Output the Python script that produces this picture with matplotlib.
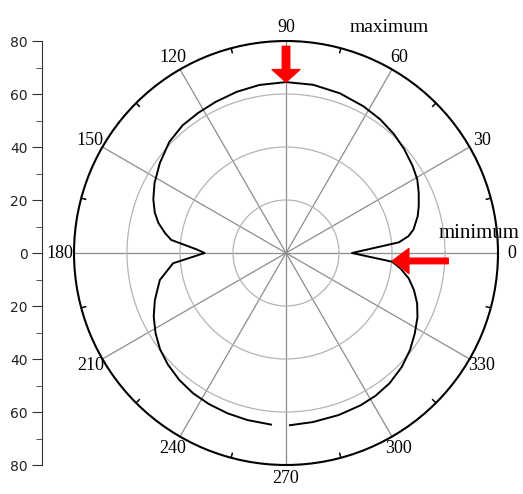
import numpy as np
import matplotlib.pyplot as plt

# pattern (angle in degrees, radius)
angles_deg = [-88.7, -81, -72, -64, -58, -51.5, -44.5, -38, -32, -26, -21, -16.2,
              -11.7, -7.7, -4.7, 0, 5.4, 7.8, 10.4, 15.6, 19.4, 24.4, 29.3, 34.6,
              41.4, 47.8, 54.8, 62.2, 71.4, 80.8, 90, 99, 107, 115, 122, 129,
              136.4, 144.4, 152, 158, 162.9, 166.7, 170.6, 173.5, 177.6, 180,
              185.2, 192.1, 199.8, 205.7, 211.6, 217.3, 223.3, 230, 236.5, 243,
              250, 257, 265]
radii = [65.0, 64.6, 64.3, 64.0, 63.6, 62.8, 61.3, 59.4, 57.3, 55.2, 53.0, 50.3,
         47.3, 43.6, 40.2, 24.9, 42.8, 46.6, 48.9, 51.6, 53.1, 55.0, 56.8, 58.0,
         59.4, 60.6, 61.7, 62.6, 63.6, 64.3, 64.5, 64.2, 63.6, 62.9, 62.4, 62.0,
         60.8, 58.5, 56.2, 54.0, 51.8, 49.5, 46.3, 43.6, 33.9, 30.7,
         42.8, 48.7, 52.6, 55.4, 57.8, 59.8, 61.3, 62.6, 63.5, 64.0,
         64.4, 64.7, 65.0]

theta_ticks = list(range(0, 360, 30))
theta_minor = list(range(15, 360, 30))
r_grid = [20, 40, 60]
r_max = 80
scale_ticks = [-80, -60, -40, -20, 0, 20, 40, 60, 80]

fig = plt.figure(figsize=(5.23, 4.94), dpi=100)

# polar plot
ax = fig.add_axes([0.1415, 0.0587, 0.8107, 0.8583], projection='polar')
ax.plot(np.deg2rad(angles_deg), radii, color='black', lw=1.4)
ax.set_ylim(0, r_max)
ax.set_yticks(r_grid)
ax.set_yticklabels([])
ax.set_xticks(np.deg2rad(theta_ticks))
ax.set_xticklabels([str(t) for t in theta_ticks], family='Liberation Serif', fontsize=13)
ax.grid(axis='x', color='#8c8c8c', lw=0.9)
ax.grid(axis='y', color='#b4b4b4', lw=0.9)
ax.spines['polar'].set_linewidth(1.5)
ax.tick_params(axis='x', which='major', length=0, pad=3)
# small inward ticks on the outer ring
ax.vlines(np.deg2rad(theta_minor), r_max * 0.975, r_max, color='black', lw=1.1)

# red arrows
ax.annotate('', xy=(np.deg2rad(90), 64.5), xytext=(np.deg2rad(90), 78),
            arrowprops=dict(arrowstyle='simple,head_length=0.45,head_width=1.0,tail_width=0.27',
                            color='red', mutation_scale=20, shrinkA=0, shrinkB=0))
ax.annotate('', xy=(np.deg2rad(-4.3), 40.2), xytext=(np.deg2rad(-2.8), 61.3),
            arrowprops=dict(arrowstyle='simple,head_length=0.6,head_width=0.9,tail_width=0.2',
                            color='red', mutation_scale=20, shrinkA=0, shrinkB=0))

fig.text(389 / 523, 1 - 28 / 494, 'maximum', family='Liberation Serif', fontsize=14,
         ha='center', va='center')
fig.text(479 / 523, 1 - 233 / 494, 'minimum', family='Liberation Serif', fontsize=15,
         ha='center', va='center')

# radial scale at the left
lax = fig.add_axes([0.0803, 0.0587, 0.0001, 0.8583])
lax.set_ylim(-r_max, r_max)
lax.set_yticks(scale_ticks)
lax.set_yticklabels([str(abs(t)) for t in scale_ticks], fontsize=10, color='#222222')
lax.set_yticks(np.arange(-70, 80, 20), minor=True)
lax.set_xticks([])
for s in ['top', 'right', 'bottom']:
    lax.spines[s].set_visible(False)
lax.spines['left'].set_color('#333333')
lax.tick_params(axis='y', which='major', length=7, color='#333333')
lax.tick_params(axis='y', which='minor', length=4, color='#333333')
lax.patch.set_visible(False)

fig.savefig('out.png', dpi=100)
